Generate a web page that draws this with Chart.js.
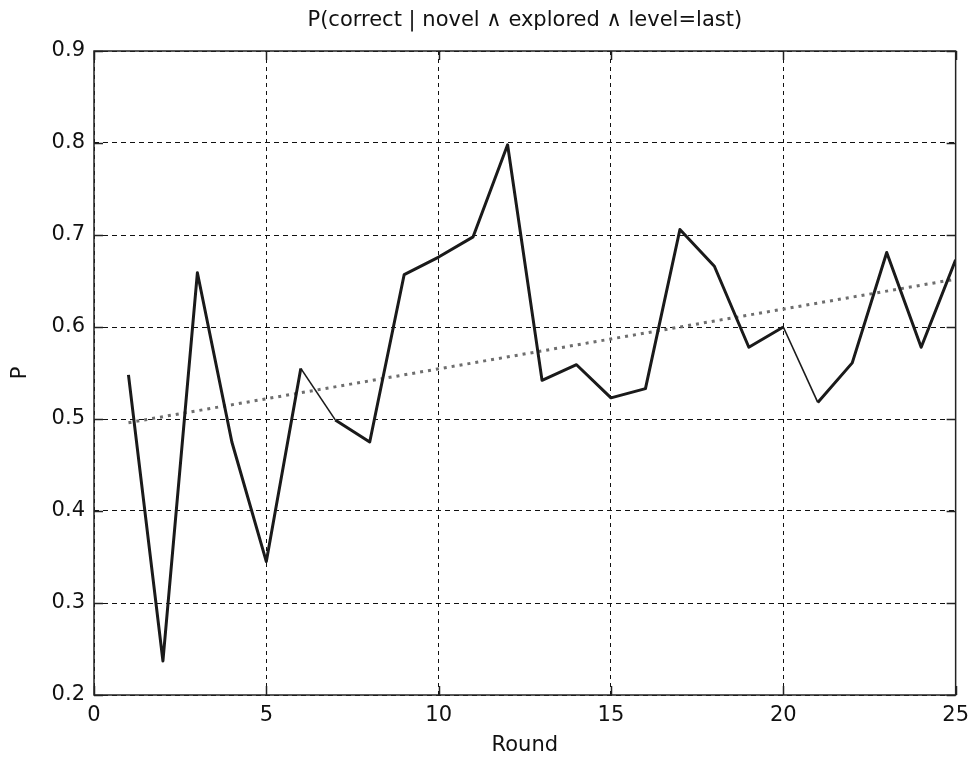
<!DOCTYPE html>
<html>
<head>
<meta charset="utf-8">
<script src="https://cdn.jsdelivr.net/npm/chart.js@4.4.1/dist/chart.umd.min.js"></script>
<style>
html,body{margin:0;padding:0;background:#fff;}
#wrap{width:977px;height:758px;position:relative;}
</style>
</head>
<body>
<div id="wrap"><canvas id="c"></canvas></div>
<script>
const rounds = [1,2,3,4,5,6,7,8,9,10,11,12,13,14,15,16,17,18,19,20,21,22,23,24,25];
const pValues = [0.548,0.237,0.659,0.475,0.345,0.555,0.499,0.475,0.657,0.676,0.698,0.798,0.542,0.559,0.523,0.533,0.706,0.666,0.578,0.600,0.518,0.561,0.681,0.578,0.673];
const trendRounds = [1,25];
const trendValues = [0.496,0.652];
const xTicks = [0,5,10,15,20,25];
const yTicks = [0.2,0.3,0.4,0.5,0.6,0.7,0.8,0.9];
const titleText = 'P(correct | novel \u2227 explored \u2227 level=last)';
const xLabel = 'Round';
const yLabel = 'P';

const FONT = 'DejaVu Sans';

const boxPlugin = {
  id: 'box',
  afterDatasetsDraw(chart) {
    const {ctx, chartArea: a, scales} = chart;
    ctx.save();
    ctx.strokeStyle = '#222';
    ctx.lineWidth = 1.5;
    ctx.setLineDash([]);
    const tl = 9;
    ctx.beginPath();
    scales.x.ticks.forEach(t => {
      const px = Math.round(scales.x.getPixelForValue(t.value)) + 0.5;
      ctx.moveTo(px, a.bottom); ctx.lineTo(px, a.bottom - tl);
      ctx.moveTo(px, a.top); ctx.lineTo(px, a.top + tl);
    });
    scales.y.ticks.forEach(t => {
      const py = Math.round(scales.y.getPixelForValue(t.value)) + 0.5;
      ctx.moveTo(a.left, py); ctx.lineTo(a.left + tl, py);
      ctx.moveTo(a.right, py); ctx.lineTo(a.right - tl, py);
    });
    ctx.stroke();
    ctx.strokeRect(a.left, a.top, a.right - a.left, a.bottom - a.top);
    ctx.restore();
  }
};

new Chart(document.getElementById('c'), {
  type: 'line',
  data: {
    datasets: [
      {
        label: 'P',
        data: rounds.map((r, i) => ({x: r, y: pValues[i]})),
        borderColor: '#1a1a1a',
        borderWidth: 3,
        pointRadius: 0,
        tension: 0,
        fill: false,
        borderJoinStyle: 'round',
        borderCapStyle: 'butt',
        segment: {
          borderWidth: ctx => (ctx.p0DataIndex === 5 || ctx.p0DataIndex === 19) ? 1.6 : 3
        },
        order: 1
      },
      {
        label: 'trend',
        data: trendRounds.map((r, i) => ({x: r, y: trendValues[i]})),
        borderColor: '#6e6e6e',
        borderWidth: 3,
        borderDash: [3, 5],
        pointRadius: 0,
        fill: false,
        order: 2
      }
    ]
  },
  options: {
    responsive: true,
    maintainAspectRatio: false,
    animation: false,
    layout: {padding: {left: 0, right: 14, top: 0, bottom: 0}},
    plugins: {
      legend: {display: false},
      tooltip: {enabled: false},
      title: {
        display: true,
        text: titleText,
        fullSize: false,
        color: '#111',
        font: {family: FONT, size: 21, weight: 'normal', lineHeight: 1.2},
        padding: {top: 8.4, bottom: 17.4}
      }
    },
    scales: {
      x: {
        type: 'linear',
        min: 0, max: 25,
        afterBuildTicks: s => { s.ticks = xTicks.map(v => ({value: v})); },
        afterFit: s => { s.height = 63; },
        border: {display: false, dash: [4, 4]},
        grid: {color: '#111', lineWidth: 1, drawTicks: false},
        ticks: {color: '#111', padding: 8, font: {family: FONT, size: 21}},
        title: {display: true, text: xLabel, color: '#111', font: {family: FONT, size: 21, lineHeight: 1.2}, padding: {top: 0, bottom: 0}}
      },
      y: {
        type: 'linear',
        min: 0.2, max: 0.9,
        afterBuildTicks: s => { s.ticks = yTicks.map(v => ({value: v})); },
        afterFit: s => { s.width = 94; },
        border: {display: false, dash: [5, 4]},
        grid: {color: '#111', lineWidth: 1, drawTicks: false},
        ticks: {color: '#111', padding: 9, font: {family: FONT, size: 21}, callback: v => v.toFixed(1)},
        title: {display: true, text: yLabel, color: '#111', font: {family: FONT, size: 21, lineHeight: 1.2}, padding: {top: 8.4, bottom: 0}}
      }
    }
  },
  plugins: [boxPlugin]
});
</script>
</body>
</html>
